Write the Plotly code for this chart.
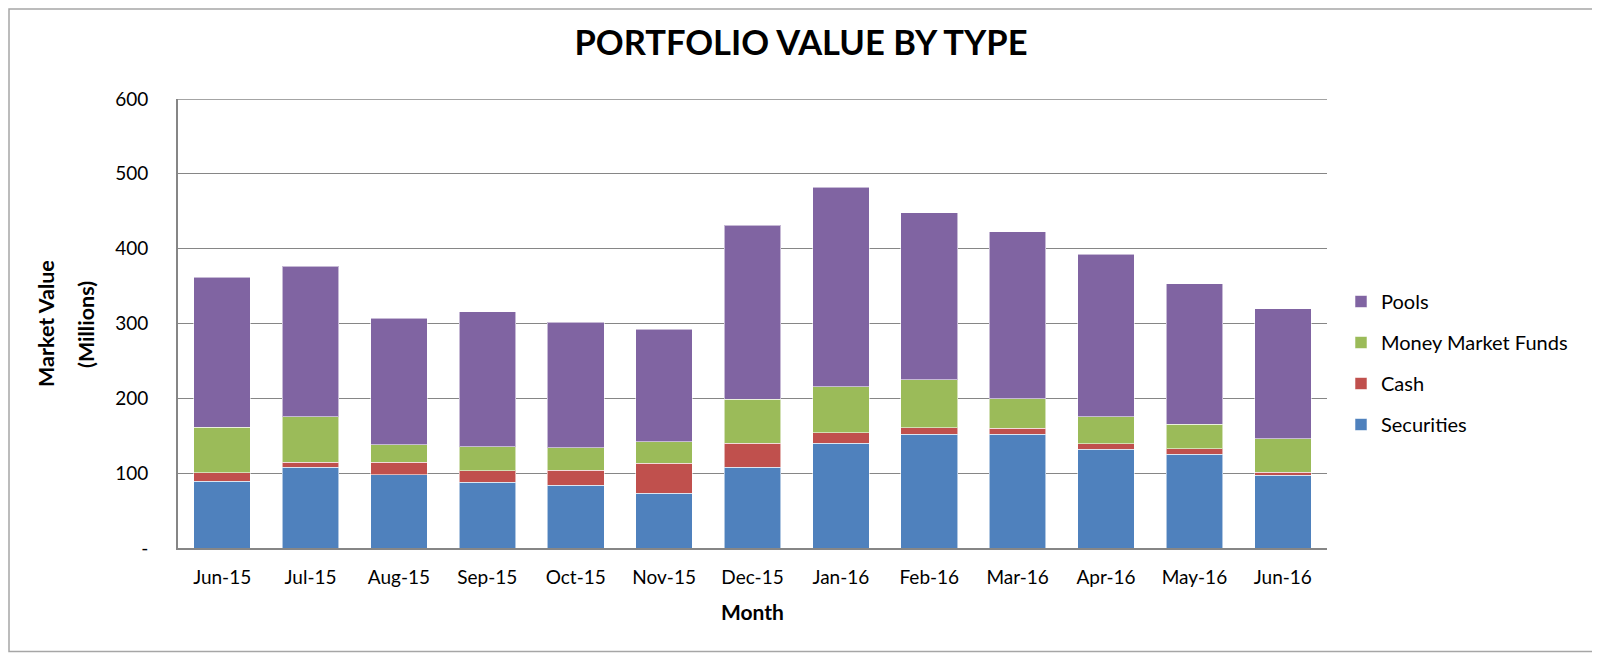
import plotly.graph_objects as go

months = ["Jun-15", "Jul-15", "Aug-15", "Sep-15", "Oct-15", "Nov-15", "Dec-15",
          "Jan-16", "Feb-16", "Mar-16", "Apr-16", "May-16", "Jun-16"]
securities = [89.5, 108, 98, 88, 84, 73.5, 108, 140, 152, 152, 132, 125, 97.5]
cash = [11, 6.5, 16.5, 15, 20, 39.5, 32, 14, 9, 8, 7, 7.5, 3.5]
money_market = [61, 61, 23.5, 32, 30, 29, 58.5, 61.5, 64, 39.5, 36.5, 33, 45]
pools = [200.5, 201, 169, 181, 168, 150, 233, 266.5, 223, 223, 217, 187.5, 174]

series = [
    ("Securities", securities, "#4F81BD", 4),
    ("Cash", cash, "#C0504D", 3),
    ("Money Market Funds", money_market, "#9BBB59", 2),
    ("Pools", pools, "#8064A2", 1),
]

FONT = "Lato"
fig = go.Figure()
for name, vals, color, rank in series:
    fig.add_trace(go.Bar(
        x=months, y=vals, name=name, legendgroup=name, legendrank=rank,
        marker=dict(color=color, line=dict(color="rgba(255,255,255,0.55)", width=1)),
    ))

# page has an 8px body margin: work in page coordinates and convert
O = 8
W, H = 1600 - O, 653 - O
L, R, T, B = 178 - O, 1327 - O, 99 - O, 548 - O
pw, ph = R - L, B - T

def px(x):
    return (x - O - L) / pw

def py(y):
    return (B - (y - O)) / ph

fig.update_layout(
    width=W, height=H,
    margin=dict(l=L, r=W - R, t=T, b=H - B, pad=0),
    barmode="stack", bargap=0.36,
    plot_bgcolor="white", paper_bgcolor="white",
    font=dict(family=FONT, size=19, color="#000000"),
    title=dict(text="<b>PORTFOLIO VALUE BY TYPE</b>", x=px(801), xref="paper",
               xanchor="center", y=1 - (43 - O) / H, yanchor="middle", yref="container",
               font=dict(family=FONT, size=34.5, color="#000000")),
    legend=dict(traceorder="grouped", tracegroupgap=12,
                x=px(1341), xanchor="left", y=py(282), yanchor="top",
                font=dict(family=FONT, size=20, color="#000000"),
                itemwidth=30, bgcolor="rgba(0,0,0,0)"),
    xaxis=dict(showgrid=False, showline=True, linecolor="#868686", linewidth=2,
               ticks="", ticklabelstandoff=11, tickfont=dict(size=19)),
    yaxis=dict(range=[0, 600], tickvals=[0, 100, 200, 300, 400, 500, 600],
               ticktext=["-", "100", "200", "300", "400", "500", "600"],
               showgrid=True, gridcolor="#868686", gridwidth=1.4,
               showline=True, linecolor="#868686", linewidth=2,
               zeroline=False, ticks="", ticklabelstandoff=24, tickfont=dict(size=19)),
    annotations=[
        dict(text="<b>Market Value</b>", x=px(46), y=py(324), xref="paper", yref="paper",
             textangle=-90, showarrow=False, xanchor="center", yanchor="middle",
             font=dict(family=FONT, size=21.5)),
        dict(text="<b>(Millions)</b>", x=px(86), y=py(324), xref="paper", yref="paper",
             textangle=-90, showarrow=False, xanchor="center", yanchor="middle",
             font=dict(family=FONT, size=21.5)),
        dict(text="<b>Month</b>", x=px(752), y=py(611), xref="paper", yref="paper",
             showarrow=False, xanchor="center", yanchor="middle",
             font=dict(family=FONT, size=21)),
    ],
    shapes=[
        dict(type="line", xref="paper", yref="y", x0=0, x1=1, y0=600, y1=600,
             line=dict(color="#868686", width=1.4), layer="below"),
        dict(type="rect", xref="paper", yref="paper",
             x0=px(O + 1), x1=px(1612), y0=py(651.5), y1=py(O + 1),
             line=dict(color="#a6a6a6", width=1.5), layer="below"),
    ],
)

fig.write_html("out.html")
